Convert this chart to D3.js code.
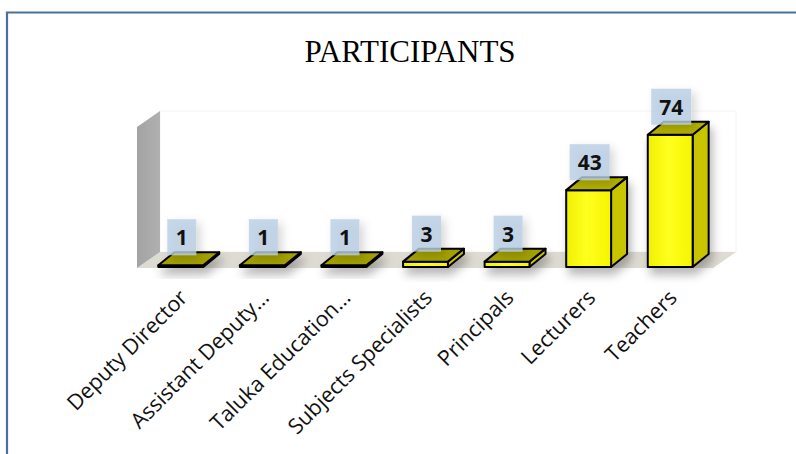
<!DOCTYPE html>
<html>
<head>
<meta charset="utf-8">
<script src="https://cdn.jsdelivr.net/npm/d3@7"></script>
<style>
  body { margin: 0; background: #fff; }
  svg { display: block; }
</style>
</head>
<body>
<div id="chart"></div>
<script>
// data
const categories = ["Deputy Director", "Assistant Deputy…", "Taluka Education…",
                    "Subjects Specialists", "Principals", "Lecturers", "Teachers"];
const values = [1, 1, 1, 3, 3, 43, 74];
const yMax = 80;

const width = 796, height = 454;
const depth = { dx: 16, dy: -13 };      // bar depth
const wallDepth = { dx: 23, dy: -16 };  // floor / wall depth

const svg = d3.select("#chart").append("svg")
    .attr("width", width)
    .attr("height", height);

const defs = svg.append("defs");

const front = defs.append("linearGradient").attr("id", "front");
front.append("stop").attr("offset", "0%").attr("stop-color", "#f0f000");
front.append("stop").attr("offset", "45%").attr("stop-color", "#ffff20");
front.append("stop").attr("offset", "100%").attr("stop-color", "#f5f500");

const wallGrad = defs.append("linearGradient").attr("id", "wall")
    .attr("x1", 0).attr("y1", 0).attr("x2", 1).attr("y2", 0);
wallGrad.append("stop").attr("offset", "0%").attr("stop-color", "#a3a3a3");
wallGrad.append("stop").attr("offset", "100%").attr("stop-color", "#b0b0b0");

const shadow = defs.append("filter").attr("id", "shadow")
    .attr("x", "-40%").attr("y", "-40%").attr("width", "180%").attr("height", "220%");
shadow.append("feDropShadow")
    .attr("dx", 3).attr("dy", 7).attr("stdDeviation", 5)
    .attr("flood-color", "#000").attr("flood-opacity", 0.28);

const boxShadow = defs.append("filter").attr("id", "boxShadow")
    .attr("x", "-60%").attr("y", "-60%").attr("width", "220%").attr("height", "220%");
boxShadow.append("feDropShadow")
    .attr("dx", 4).attr("dy", 4).attr("stdDeviation", 5)
    .attr("flood-color", "#000").attr("flood-opacity", 0.2);

// frame
svg.append("path")
    .attr("d", "M7,454 V12.5 H796")
    .attr("fill", "none")
    .attr("stroke", "#4a6e9e")
    .attr("stroke-width", 2.2);

svg.append("text")
    .attr("x", 410)
    .attr("y", 62)
    .attr("text-anchor", "middle")
    .style("font-family", "'Liberation Serif', 'Times New Roman', serif")
    .style("font-size", "31px")
    .text("PARTICIPANTS");

const x = d3.scaleBand()
    .domain(categories)
    .range([140, 711])
    .paddingInner(0.45)
    .paddingOuter(0.225);

const y = d3.scaleLinear()
    .domain([0, yMax])
    .range([267, 124]);

// walls and floor
const x0 = x.range()[0] - 3, x1 = x.range()[1] + 2;
const yb = y(0) + 1, yt = y(yMax) + 3;

svg.append("polygon")
    .attr("points", [[x0 + wallDepth.dx, yb + wallDepth.dy], [x1 + wallDepth.dx, yb + wallDepth.dy],
                     [x1 + wallDepth.dx, yt + wallDepth.dy], [x0 + wallDepth.dx, yt + wallDepth.dy]].join(" "))
    .attr("fill", "#fff")
    .attr("stroke", "#f2f2f2");

svg.append("polygon")
    .attr("points", [[x0, yb], [x1, yb], [x1 + wallDepth.dx, yb + wallDepth.dy],
                     [x0 + wallDepth.dx, yb + wallDepth.dy]].join(" "))
    .attr("fill", "#dedbd3");

svg.append("polygon")
    .attr("points", [[x0, yb], [x0, yt], [x0 + wallDepth.dx, yt + wallDepth.dy],
                     [x0 + wallDepth.dx, yb + wallDepth.dy]].join(" "))
    .attr("fill", "url(#wall)");

// bars
const bars = svg.selectAll("g.bar")
    .data(values)
    .enter()
    .append("g")
    .attr("class", "bar")
    .attr("filter", "url(#shadow)");

bars.each(function(d, i) {
    const g = d3.select(this);
    const bx = x(categories[i]), bw = x.bandwidth();
    const top = y(d), bot = y(0);
    const p = (px, py) => [px, py];
    const stroke = s => s.attr("stroke", "#000").attr("stroke-width", 2).attr("stroke-linejoin", "round");

    stroke(g.append("polygon")
        .attr("points", [p(bx + bw, bot), p(bx + bw + depth.dx, bot + depth.dy),
                         p(bx + bw + depth.dx, top + depth.dy), p(bx + bw, top)].join(" "))
        .attr("fill", "#c8c400"));
    stroke(g.append("rect")
        .attr("x", bx).attr("y", top)
        .attr("width", bw).attr("height", Math.max(bot - top, 0.5))
        .attr("fill", "url(#front)"));
    stroke(g.append("polygon")
        .attr("points", [p(bx, top), p(bx + bw, top), p(bx + bw + depth.dx, top + depth.dy),
                         p(bx + depth.dx, top + depth.dy)].join(" "))
        .attr("fill", d > 10 ? "#b3b000" : "#a3a000"));
});

// value labels
const labels = svg.selectAll("g.lbl")
    .data(values)
    .enter()
    .append("g")
    .attr("class", "lbl");

labels.each(function(d, i) {
    const g = d3.select(this);
    const cx = x(categories[i]) + x.bandwidth() / 2 + 1;
    const bw = String(d).length > 1 ? 40 : 29;
    const bottom = y(d) + depth.dy + 3;
    g.append("rect")
        .attr("x", cx - bw / 2).attr("y", bottom - 36)
        .attr("width", bw).attr("height", 36)
        .attr("fill", "#b9cde5")
        .attr("fill-opacity", 0.8)
        .attr("filter", "url(#boxShadow)");
    g.append("text")
        .attr("x", cx)
        .attr("y", bottom - 10)
        .attr("text-anchor", "middle")
        .style("font-family", "'Open Sans', Lato, sans-serif")
        .style("font-weight", "bold")
        .style("font-size", "21px")
        .attr("fill", "#111")
        .text(d);
});

// category labels
svg.selectAll("text.cat")
    .data(categories)
    .enter()
    .append("text")
    .attr("class", "cat")
    .attr("text-anchor", "end")
    .attr("transform", d => "translate(" + (x(d) + x.bandwidth() / 2 + 8) + ",299) rotate(-45)")
    .style("font-family", "'Open Sans', Lato, sans-serif")
    .style("font-size", "21.5px")
    .attr("fill", "#111")
    .text(d => d);
</script>
</body>
</html>
